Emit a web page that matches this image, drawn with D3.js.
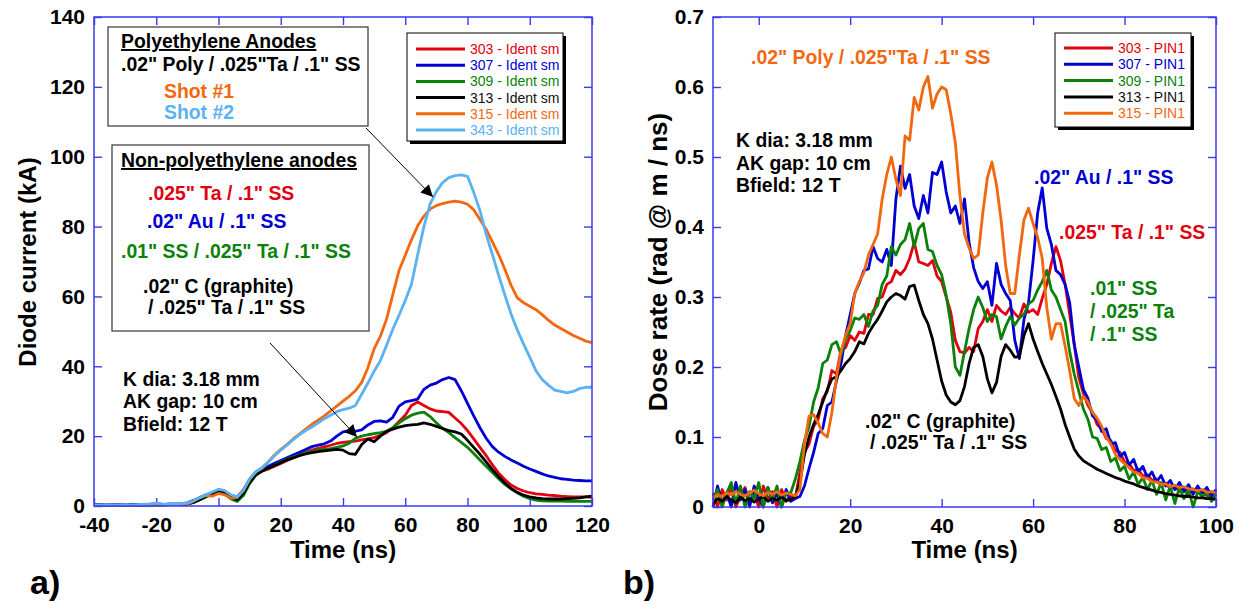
<!DOCTYPE html>
<html>
<head>
<meta charset="utf-8">
<script src="https://cdn.jsdelivr.net/npm/d3@7"></script>
<style>
  body { margin: 0; background: #fff; }
  svg { display: block; font-family: Arial, "Liberation Sans", Helvetica, sans-serif; }
</style>
</head>
<body>
<svg id="chart" width="1241" height="604"></svg>
<script>
// ---------- a) diode current (kA), one sample every 2 ns starting at -40 ns ----------
const currentStart = -40, currentStep = 2;
const current303 = [
  0.3,0.3,0.3,0.2,0.3,0.3,0.3,0.3,0.3,0.4,
  0.4,0.4,0.5,0.5,0.6,0.8,1.3,2.0,2.8,3.6,
  4.3,4.0,2.8,2.3,4.0,7.0,9.0,10.0,10.6,11.4,
  12.2,13.0,13.8,14.6,15.4,16.0,16.5,16.9,17.4,17.9,
  18.2,18.4,18.6,18.9,19.2,19.6,20.2,21.0,22.4,24.2,
  26.0,28.8,29.8,28.8,27.8,27.2,27.0,26.8,25.2,23.6,
  21.6,19.2,16.8,14.4,11.8,9.4,7.6,6.0,5.0,4.3,
  3.8,3.5,3.3,3.1,3.0,2.8,2.7,2.6,2.6,2.6,
  2.5];
const current307 = [
  0.3,0.3,0.3,0.3,0.3,0.3,0.3,0.3,0.3,0.3,
  0.4,0.4,0.5,0.5,0.6,0.9,1.6,2.4,3.2,3.8,
  4.6,4.2,3.0,2.6,4.6,7.6,9.6,10.6,11.4,12.2,
  13.0,13.8,14.6,15.4,16.2,17.0,17.4,17.8,18.6,20.0,
  21.2,21.6,21.4,21.8,23.2,24.2,24.4,24.0,25.4,28.6,
  29.8,30.2,30.6,33.4,34.6,35.2,36.2,36.8,36.2,33.0,
  29.4,25.8,22.4,19.4,17.0,15.4,14.2,13.2,12.3,11.4,
  10.6,9.9,9.2,8.6,8.2,7.8,7.6,7.4,7.3,7.2,
  7.2];
const current309 = [
  0.2,0.2,0.2,0.2,0.2,0.2,0.2,0.2,0.3,0.3,
  0.3,0.3,0.4,0.4,0.5,0.6,1.0,1.8,2.6,3.4,
  4.2,3.6,2.0,1.3,3.0,6.4,8.8,10.0,10.8,11.6,
  12.6,13.4,14.0,14.6,15.2,15.6,16.0,16.2,16.4,16.8,
  17.2,18.0,19.4,20.0,20.4,20.7,21.0,21.4,22.4,23.8,
  25.0,26.0,26.6,26.9,25.6,23.8,22.2,21.0,19.6,18.2,
  16.8,15.0,13.2,11.4,9.6,7.8,6.2,4.9,3.8,2.8,
  2.1,1.7,1.5,1.4,1.4,1.4,1.3,1.3,1.3,1.3,
  1.3];
const current313 = [
  0.3,0.3,0.4,0.3,0.3,0.3,0.3,0.3,0.3,0.3,
  0.3,0.3,0.4,0.4,0.4,0.5,1.0,1.8,2.8,3.6,
  4.4,3.8,2.5,1.8,3.6,6.8,9.0,10.0,10.8,11.6,
  12.4,13.2,13.8,14.4,14.9,15.3,15.6,15.8,16.0,16.2,
  16.0,15.0,14.8,17.6,19.2,18.4,20.0,21.4,22.0,22.6,
  23.0,23.2,23.4,23.8,23.4,22.8,22.2,21.6,21.2,20.6,
  18.8,16.8,14.8,12.6,10.4,8.4,6.6,5.0,3.9,3.1,
  2.6,2.3,2.1,2.0,2.0,2.0,2.1,2.2,2.3,2.6,
  2.8];
const current315 = [
  0.2,0.2,0.3,0.2,0.2,0.3,0.2,0.2,0.3,0.3,
  0.3,0.3,0.4,0.4,0.5,0.6,1.4,2.4,3.0,2.8,
  3.6,3.2,2.2,2.4,4.6,7.6,9.8,10.8,12.6,14.6,
  16.2,17.6,19.2,20.6,22.0,23.4,24.6,25.8,27.2,28.6,
  30.0,31.4,33.0,35.4,39.6,45.0,48.6,53.5,60.5,67.4,
  71.8,76.2,80.2,83.0,85.0,86.0,86.6,87.0,87.3,87.0,
  86.4,84.8,82.0,79.2,75.6,72.0,67.8,63.2,59.6,58.2,
  57.2,56.2,54.8,53.2,51.8,50.8,49.8,48.8,48.0,47.2,
  46.8];
const current343 = [
  0.3,0.3,0.4,0.3,0.3,0.4,0.3,0.4,0.5,0.6,
  0.9,0.6,0.5,0.5,0.7,0.9,1.5,2.4,3.2,4.0,
  4.8,4.4,3.2,2.6,4.4,7.8,9.8,11.0,12.6,14.4,
  16.0,17.4,19.0,20.4,21.6,22.6,23.8,25.0,26.0,27.0,
  27.6,28.0,28.8,32.0,35.2,38.6,41.6,46.0,50.6,54.6,
  58.8,63.5,72.0,80.0,86.5,90.0,92.6,94.0,94.6,94.8,
  94.4,89.8,84.6,77.8,72.0,66.0,60.4,55.0,50.4,46.4,
  42.6,38.7,36.2,34.6,33.2,32.8,32.4,32.8,33.6,34.0,
  34.0];

// ---------- b) dose rate (rad @ m / ns), one sample every 1 ns starting at -10 ns ----------
const doseStart = -10, doseStep = 1;
const dose303 = [
  0.02,0.0,0.025,0.01,0.03,0.0,0.015,0.028,0.005,0.02,0.0,0.03,0.01,0.022,0.0,0.025,0.008,0.018,0.012,
  0.05,0.078,0.09,0.115,0.125,0.155,0.165,0.195,0.19,0.225,0.228,0.245,
  0.238,0.25,0.248,0.275,0.275,0.298,0.3,0.318,0.322,0.338,
  0.332,0.34,0.355,0.378,0.35,0.348,0.345,0.352,0.33,0.322,
  0.3,0.278,0.238,0.222,0.22,0.228,0.222,0.255,0.265,0.282,
  0.265,0.288,0.28,0.275,0.285,0.276,0.27,0.29,0.278,0.282,
  0.275,0.298,0.318,0.348,0.372,0.352,0.318,0.275,0.232,0.185,
  0.162,0.145,0.135,0.118,0.112,0.098,0.095,0.08,0.078,0.064,
  0.062,0.052,0.054,0.044,0.046,0.038,0.04,0.03,0.034,0.026,
  0.03,0.022,0.028,0.018,0.026,0.02,0.024,0.016,0.022,0.018];
const dose307 = [
  0.0,0.03,0.005,0.02,0.0,0.035,0.01,0.025,0.0,0.03,0.012,0.0,0.028,0.006,0.02,0.0,0.025,0.008,0.012,
  0.015,0.03,0.055,0.078,0.105,0.112,0.145,0.15,0.18,0.205,0.245,0.275,
  0.305,0.32,0.338,0.34,0.372,0.355,0.35,0.368,0.345,0.44,
  0.487,0.455,0.475,0.43,0.412,0.445,0.42,0.478,0.475,0.493,
  0.45,0.42,0.43,0.405,0.44,0.378,0.342,0.322,0.312,0.322,
  0.288,0.348,0.318,0.305,0.295,0.238,0.212,0.268,0.292,0.352,
  0.42,0.456,0.398,0.375,0.338,0.332,0.318,0.292,0.232,0.2,
  0.168,0.155,0.13,0.125,0.108,0.112,0.09,0.092,0.072,0.078,
  0.06,0.068,0.05,0.058,0.042,0.05,0.036,0.045,0.03,0.038,
  0.025,0.035,0.022,0.032,0.018,0.03,0.02,0.028,0.015,0.025];
const dose309 = [
  0.01,0.025,0.0,0.02,0.035,0.005,0.03,0.0,0.022,0.012,0.035,0.0,0.028,0.01,0.03,0.0,0.02,0.02,0.04,
  0.065,0.095,0.115,0.15,0.17,0.205,0.21,0.232,0.236,0.218,0.24,0.252,
  0.27,0.268,0.275,0.258,0.28,0.288,0.318,0.33,0.372,0.36,
  0.375,0.382,0.405,0.372,0.398,0.405,0.368,0.365,0.345,0.332,
  0.302,0.262,0.2,0.188,0.222,0.255,0.282,0.3,0.285,0.265,
  0.275,0.272,0.24,0.258,0.272,0.26,0.27,0.275,0.29,0.295,
  0.31,0.322,0.338,0.31,0.3,0.282,0.265,0.222,0.19,0.165,
  0.14,0.125,0.1,0.098,0.082,0.085,0.065,0.07,0.052,0.058,
  0.04,0.05,0.032,0.042,0.025,0.038,0.018,0.035,0.01,0.03,
  0.005,0.028,0.012,0.025,0.0,0.022,0.015,0.02,0.008,0.018];
const dose313 = [
  0.004,0.012,0.008,0.015,0.01,0.006,0.014,0.009,0.012,0.007,0.011,0.015,0.008,0.012,0.01,0.014,0.009,0.011,0.015,
  0.035,0.075,0.1,0.118,0.132,0.15,0.168,0.183,0.186,0.195,0.205,0.212,
  0.222,0.236,0.233,0.248,0.259,0.268,0.28,0.293,0.3,0.305,
  0.302,0.297,0.315,0.317,0.295,0.275,0.262,0.24,0.21,0.18,
  0.16,0.15,0.146,0.152,0.172,0.205,0.228,0.232,0.215,0.183,
  0.163,0.178,0.215,0.232,0.224,0.214,0.215,0.245,0.262,0.24,
  0.222,0.205,0.19,0.175,0.158,0.14,0.118,0.1,0.083,0.073,
  0.066,0.062,0.058,0.054,0.051,0.048,0.045,0.042,0.04,0.037,
  0.035,0.033,0.03,0.028,0.026,0.024,0.022,0.021,0.019,0.018,
  0.017,0.016,0.015,0.015,0.014,0.013,0.013,0.012,0.012,0.011];
const dose315 = [
  0.012,0.018,0.015,0.02,0.017,0.022,0.018,0.016,0.02,0.024,0.019,0.016,0.021,0.018,0.022,0.017,0.02,0.018,0.016,
  0.025,0.09,0.13,0.132,0.12,0.105,0.1,0.135,0.185,0.222,0.245,0.262,
  0.305,0.322,0.335,0.36,0.375,0.39,0.44,0.475,0.5,0.468,
  0.445,0.53,0.524,0.585,0.567,0.6,0.615,0.57,0.59,0.6,
  0.596,0.562,0.52,0.445,0.39,0.37,0.355,0.36,0.42,0.47,
  0.493,0.46,0.41,0.345,0.305,0.305,0.36,0.41,0.427,0.405,
  0.385,0.355,0.285,0.24,0.262,0.262,0.23,0.195,0.155,0.145,
  0.158,0.15,0.135,0.127,0.115,0.1,0.09,0.075,0.068,0.062,
  0.056,0.05,0.048,0.042,0.041,0.036,0.036,0.032,0.033,0.029,
  0.031,0.028,0.029,0.026,0.025,0.023,0.025,0.021,0.022,0.02];

// ---------- axes ----------
const currentTicksX = [-40, -20, 0, 20, 40, 60, 80, 100, 120];
const currentTicksY = [0, 20, 40, 60, 80, 100, 120, 140];
const doseTicksX = [0, 20, 40, 60, 80, 100];
const doseTicksY = [0, 0.1, 0.2, 0.3, 0.4, 0.5, 0.6, 0.7];

// ---------- legends ----------
const currentLegend = ["303 - Ident sm", "307 - Ident sm", "309 - Ident sm", "313 - Ident sm", "315 - Ident sm", "343 - Ident sm"];
const doseLegend = ["303 - PIN1", "307 - PIN1", "309 - PIN1", "313 - PIN1", "315 - PIN1"];

const C = {
  red: "#e3000f", blue: "#0000d2", green: "#0a820a", black: "#000000",
  orange: "#f2680f", sky: "#5ab2f2", axis: "#3a3af0"
};

const currentSeries = [
  { values: current303, color: C.red },
  { values: current307, color: C.blue },
  { values: current309, color: C.green },
  { values: current313, color: C.black },
  { values: current315, color: C.orange },
  { values: current343, color: C.sky }
];
const doseSeries = [
  { values: dose303, color: C.red },
  { values: dose307, color: C.blue },
  { values: dose309, color: C.green },
  { values: dose313, color: C.black },
  { values: dose315, color: C.orange }
];

const svg = d3.select("#chart");
const NOTE = 19.4;   // size of the bold annotation text

svg.append("defs").append("marker")
  .attr("id", "head").attr("viewBox", "0 0 10 10")
  .attr("refX", 10).attr("refY", 5)
  .attr("markerUnits", "userSpaceOnUse")
  .attr("markerWidth", 16).attr("markerHeight", 12)
  .attr("orient", "auto")
  .append("path").attr("d", "M0,0 L10,5 L0,10 Z").attr("fill", "#000");

function panel(opt) {
  const x = d3.scaleLinear().domain(opt.xDomain).range(opt.xRange);
  const y = d3.scaleLinear().domain(opt.yDomain).range(opt.yRange);
  const g = svg.append("g");
  const [x0, x1] = opt.xRange, [y0, y1] = opt.yRange;

  const style = sel => {
    sel.select(".domain").remove();
    sel.selectAll(".tick line").attr("stroke", C.axis).attr("stroke-width", 1.4);
    sel.selectAll("text").attr("font-size", 21).attr("font-weight", "bold")
      .attr("fill", "#000").attr("font-family", "Arial, 'Liberation Sans', sans-serif");
  };

  g.append("g").attr("transform", `translate(0,${y0})`)
    .call(d3.axisBottom(x).tickValues(opt.xTicks).tickSize(-8).tickSizeOuter(0).tickPadding(11)
      .tickFormat(d => String(d))).call(style);
  g.append("g").attr("transform", `translate(0,${y1})`)
    .call(d3.axisTop(x).tickValues(opt.xTicks).tickSize(-8).tickSizeOuter(0).tickFormat("")).call(style);
  g.append("g").attr("transform", `translate(${x0},0)`)
    .call(d3.axisLeft(y).tickValues(opt.yTicks).tickSize(-8).tickSizeOuter(0).tickPadding(9)
      .tickFormat(opt.yFormat)).call(style);
  g.append("g").attr("transform", `translate(${x1},0)`)
    .call(d3.axisRight(y).tickValues(opt.yTicks).tickSize(-8).tickSizeOuter(0).tickFormat("")).call(style);

  const line = d3.line()
    .x((d, i) => x(opt.start + i * opt.step))
    .y(d => y(d));
  g.append("g")
    .selectAll("path").data(opt.series).join("path")
    .attr("d", s => line(s.values))
    .attr("fill", "none").attr("stroke", s => s.color)
    .attr("stroke-width", 2.8).attr("stroke-linejoin", "round");

  g.append("rect").attr("x", x0).attr("y", y1).attr("width", x1 - x0).attr("height", y0 - y1)
    .attr("fill", "none").attr("stroke", C.axis).attr("stroke-width", 1.5);

  g.append("text").attr("x", (x0 + x1) / 2).attr("y", 558).attr("text-anchor", "middle")
    .attr("font-size", 24).attr("font-weight", "bold").text(opt.xTitle);
  g.append("text").attr("transform", `translate(${opt.yTitleX},262) rotate(-90)`)
    .attr("text-anchor", "middle").attr("font-size", opt.yTitleSize).attr("font-weight", "bold").text(opt.yTitle);
  g.append("text").attr("x", opt.tagX).attr("y", 594).attr("font-size", 34)
    .attr("font-weight", "bold").text(opt.tag);
  return g;
}

function legend(box, labels, series) {
  const g = svg.append("g");
  g.append("rect").attr("x", box.x + 3).attr("y", box.y + 3).attr("width", box.w).attr("height", box.h).attr("fill", "#000");
  g.append("rect").attr("x", box.x).attr("y", box.y).attr("width", box.w).attr("height", box.h)
    .attr("fill", "#fff").attr("stroke", "#000").attr("stroke-width", 1);
  labels.forEach((lab, i) => {
    const yy = box.y + box.first + i * box.gap;
    g.append("line").attr("x1", box.x + 9).attr("x2", box.x + 58).attr("y1", yy).attr("y2", yy)
      .attr("stroke", series[i].color).attr("stroke-width", 3);
    g.append("text").attr("x", box.x + 63).attr("y", yy + 5).attr("font-size", 14)
      .attr("fill", series[i].color === C.black ? "#111" : series[i].color).text(lab);
  });
}

function label(g, x, y, txt, color, opts = {}) {
  const t = g.append("text").attr("x", x).attr("y", y).attr("font-size", opts.size || NOTE)
    .attr("font-weight", "bold").attr("fill", color || "#000").text(txt);
  if (opts.underline) t.style("text-decoration", "underline");
  return t;
}

// ----- panel a -----
panel({
  xDomain: [-40, 120], xRange: [94, 592], yDomain: [0, 140], yRange: [506, 17],
  xTicks: currentTicksX, yTicks: currentTicksY, yFormat: d => String(d),
  start: currentStart, step: currentStep, series: currentSeries,
  xTitle: "Time (ns)", yTitle: "Diode current (kA)", yTitleX: 36, yTitleSize: 24, tag: "a)", tagX: 30
});

legend({ x: 407, y: 33, w: 156, h: 108, first: 16, gap: 16.2 }, currentLegend, currentSeries);

const ann = svg.append("g");
ann.append("rect").attr("x", 108).attr("y", 27).attr("width", 260).attr("height", 99)
  .attr("fill", "#fff").attr("stroke", "#444").attr("stroke-width", 1.3);
label(ann, 121, 48, "Polyethylene Anodes", "#000", { underline: true });
label(ann, 121, 71, ".02\" Poly / .025\"Ta / .1\" SS", "#000");
label(ann, 164, 98, "Shot #1", C.orange);
label(ann, 164, 119, "Shot #2", C.sky);

ann.append("rect").attr("x", 112).attr("y", 145).attr("width", 257).attr("height", 186)
  .attr("fill", "#fff").attr("stroke", "#444").attr("stroke-width", 1.3);
label(ann, 121, 167, "Non-polyethylene anodes", "#000", { underline: true });
label(ann, 148, 200, ".025\" Ta / .1\" SS", C.red);
label(ann, 147, 228, ".02\" Au / .1\" SS", C.blue);
label(ann, 121, 258, ".01\" SS / .025\" Ta / .1\" SS", C.green);
label(ann, 143, 293, ".02\" C (graphite)", "#000");
label(ann, 148, 314, "/ .025\" Ta / .1\" SS", "#000");

label(ann, 123, 386, "K dia: 3.18 mm", "#000");
label(ann, 123, 408, "AK gap: 10 cm", "#000");
label(ann, 123, 431, "Bfield: 12 T", "#000");

ann.append("line").attr("x1", 366).attr("y1", 128).attr("x2", 433).attr("y2", 197)
  .attr("stroke", "#000").attr("stroke-width", 1).attr("marker-end", "url(#head)");
ann.append("line").attr("x1", 270).attr("y1", 343).attr("x2", 357).attr("y2", 437)
  .attr("stroke", "#000").attr("stroke-width", 1).attr("marker-end", "url(#head)");

// ----- panel b -----
panel({
  xDomain: [-10, 100], xRange: [713, 1216], yDomain: [0, 0.7], yRange: [507, 17],
  xTicks: doseTicksX, yTicks: doseTicksY, yFormat: d => d === 0 ? "0" : d3.format(".1f")(d),
  start: doseStart, step: doseStep, series: doseSeries,
  xTitle: "Time (ns)", yTitle: "Dose rate (rad @ m / ns)", yTitleX: 667, yTitleSize: 26, tag: "b)", tagX: 623
});

legend({ x: 1055, y: 33, w: 136, h: 94, first: 15, gap: 16.3 }, doseLegend, doseSeries);

const annB = svg.append("g");
label(annB, 751, 64, ".02\" Poly / .025\"Ta / .1\" SS", C.orange);
label(annB, 736, 147, "K dia: 3.18 mm", "#000");
label(annB, 736, 170, "AK gap: 10 cm", "#000");
label(annB, 736, 192, "Bfield: 12 T", "#000");
label(annB, 1034, 184, ".02\" Au / .1\" SS", C.blue);
label(annB, 1059, 239, ".025\" Ta / .1\" SS", C.red);
label(annB, 1090, 295, ".01\" SS", C.green);
label(annB, 1090, 318, "/ .025\" Ta", C.green);
label(annB, 1090, 341, "/ .1\" SS", C.green);
label(annB, 865, 428, ".02\" C (graphite)", "#000");
label(annB, 870, 449, "/ .025\" Ta / .1\" SS", "#000");
</script>
</body>
</html>
